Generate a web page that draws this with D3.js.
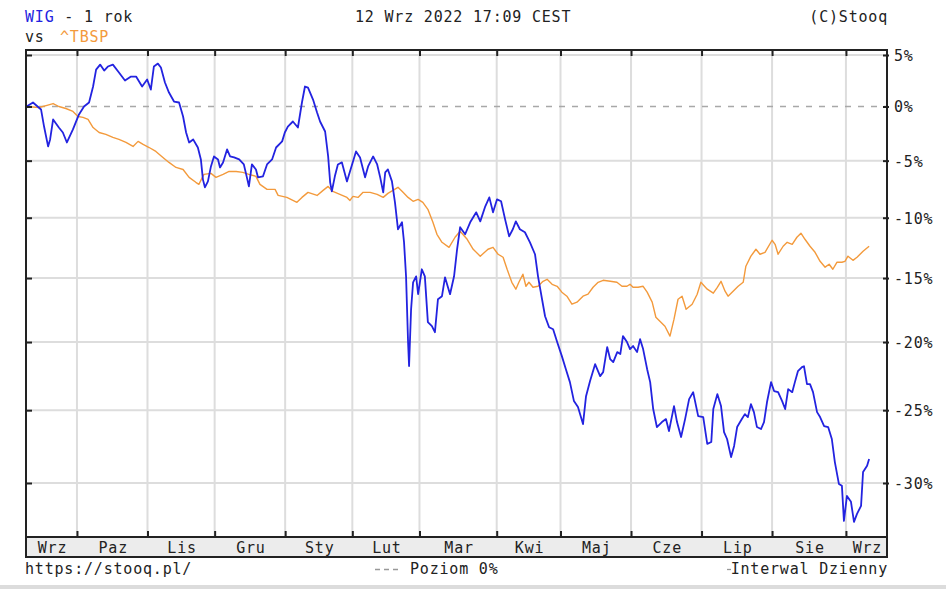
<!DOCTYPE html>
<html><head><meta charset="utf-8">
<script src="https://cdn.jsdelivr.net/npm/d3@7"></script>
<style>
body{margin:0;background:#fff;}
svg{display:block;}
text{font-family:"DejaVu Sans Mono",monospace;font-size:15px;letter-spacing:0.8px;fill:#222;}
</style></head><body>
<svg id="c" width="946" height="589"></svg>
<script>
// ---- data ----
const monthLabels = ["Wrz","Paz","Lis","Gru","Sty","Lut","Mar","Kwi","Maj","Cze","Lip","Sie","Wrz"];
const monthStartDays = [15,36,56,77,97,117,140,159,180,201,222,244]; // trading-day index of 1st session of month
const totalDays = 252;
const yTicks = [5,0,-5,-10,-15,-20,-25,-30];
// [trading day index, % change] WIG
const wig = [[0,0],[1.9,0.38],[4.3,-0.28],[5.2,-1.88],[6.4,-3.71],[7.0,-3.07],[7.9,-1.22],[9.6,-1.97],[10.8,-2.43],[12.0,-3.35],[13.8,-2.15],[15.6,-0.75],[17.1,0],[18.6,0.38],[19.8,1.91],[20.7,3.56],[21.9,4.05],[23.1,3.46],[24.2,3.86],[25.7,4.05],[27.5,3.27],[29.3,2.49],[31.1,2.88],[32.6,2.88],[34.4,1.91],[35.9,2.59],[37.0,1.62],[37.9,3.86],[39.1,4.15],[40.0,3.76],[41.2,2.30],[42.4,1.33],[43.9,0.47],[45.4,0.38],[46.6,-0.94],[47.5,-2.43],[48.4,-3.35],[49.6,-3.07],[51.0,-3.81],[51.9,-4.89],[52.5,-6.67],[53.1,-7.37],[54.0,-6.85],[54.9,-5.52],[55.8,-4.62],[57.0,-4.89],[57.6,-5.61],[58.5,-5.16],[59.7,-3.99],[60.6,-4.62],[61.8,-4.71],[63.3,-4.89],[64.7,-5.34],[65.6,-6.49],[66.2,-7.29],[67.1,-5.34],[68.3,-5.79],[68.9,-6.49],[70.4,-6.40],[71.6,-5.34],[73.1,-4.89],[74.3,-3.81],[76.1,-3.25],[76.9,-2.43],[77.8,-1.88],[79.3,-1.41],[80.8,-1.97],[82.0,0.38],[82.9,1.91],[83.8,1.81],[85.3,0.66],[86.5,-0.57],[87.4,-1.41],[88.9,-2.34],[89.8,-4.62],[90.4,-6.93],[90.9,-7.73],[91.8,-6.40],[92.7,-5.34],[93.9,-5.16],[95.4,-6.85],[96.3,-5.97],[98.1,-4.17],[99.3,-4.71],[100.8,-6.49],[101.7,-5.52],[103.2,-4.62],[104.4,-5.34],[105.3,-6.49],[106.2,-7.81],[106.8,-6.05],[107.6,-5.79],[108.8,-6.85],[109.7,-8.68],[110.6,-10.98],[111.8,-10.39],[112.4,-12.07],[113.0,-14.86],[113.6,-20.0],[113.9,-21.8],[114.5,-17.48],[115.1,-15.34],[116.0,-14.86],[116.6,-16.29],[117.7,-14.29],[118.6,-14.86],[119.5,-18.48],[120.7,-18.79],[121.6,-19.25],[122.5,-16.69],[123.7,-16.45],[124.6,-14.94],[126.1,-16.29],[127.3,-14.86],[128.2,-12.65],[129.1,-10.81],[130.6,-11.40],[132.1,-10.39],[133.9,-9.54],[135.1,-10.31],[136.6,-9.02],[137.8,-8.25],[138.9,-9.54],[140.1,-8.42],[141.3,-8.59],[142.5,-10.14],[143.7,-11.57],[144.8,-10.98],[145.7,-10.31],[146.9,-10.98],[148.4,-11.23],[149.9,-12.07],[151.4,-13.06],[152.3,-14.86],[153.5,-16.69],[154.4,-18.02],[155.6,-18.87],[156.8,-19.02],[158.0,-20.0],[159.4,-21.06],[160.6,-22.03],[161.8,-22.98],[163.0,-24.35],[164.2,-24.78],[165.7,-25.98],[166.6,-24.0],[167.8,-22.9],[169.3,-21.66],[170.8,-22.54],[171.7,-22.25],[172.9,-20.38],[173.8,-21.29],[174.7,-21.51],[175.9,-20.76],[176.8,-20.91],[177.6,-19.55],[178.8,-20.0],[179.7,-20.53],[180.6,-20.30],[181.8,-20.76],[182.7,-19.78],[183.6,-20.53],[184.8,-22.03],[185.7,-22.98],[186.6,-24.92],[187.7,-26.19],[189.2,-25.84],[190.4,-25.63],[191.3,-26.47],[192.8,-24.71],[193.7,-25.84],[194.9,-26.88],[196.1,-25.63],[197.3,-24.21],[198.5,-23.71],[200.0,-25.42],[201.5,-25.49],[202.7,-27.36],[203.9,-27.23],[204.5,-24.92],[205.7,-23.85],[206.8,-24.71],[207.7,-26.54],[208.6,-27.02],[209.8,-28.26],[210.7,-27.50],[211.6,-26.19],[213.0,-25.63],[213.9,-25.28],[214.8,-25.49],[215.7,-24.57],[216.6,-25.14],[217.5,-26.19],[218.7,-26.33],[219.6,-25.84],[220.5,-24.42],[221.7,-22.98],[222.6,-23.63],[223.8,-23.71],[225.0,-24.35],[225.9,-24.92],[226.8,-23.49],[228.0,-23.71],[228.8,-22.98],[229.7,-22.18],[230.9,-21.88],[231.5,-21.81],[232.4,-23.13],[233.3,-23.13],[234.2,-23.71],[235.4,-25.14],[236.3,-25.49],[237.5,-26.12],[238.7,-26.19],[239.8,-27.02],[240.7,-28.60],[241.9,-30.06],[242.8,-30.19],[243.4,-32.47],[244.3,-30.85],[245.5,-31.24],[246.4,-32.53],[247.3,-32.02],[248.5,-31.50],[249.1,-29.27],[250.3,-28.85],[250.9,-28.39]];
// [trading day index, % change] ^TBSP
const tbsp = [[0,0],[3.7,-0.09],[5.8,0.09],[7.9,0.28],[9.6,0],[11.7,-0.19],[13.8,-0.47],[15.3,-0.94],[16.8,-1.03],[18.3,-1.22],[19.8,-1.97],[21.6,-2.43],[23.6,-2.61],[25.7,-2.89],[27.5,-3.07],[29.6,-3.35],[31.7,-3.71],[33.2,-3.25],[34.7,-3.53],[36.5,-3.81],[38.5,-4.17],[40.6,-4.71],[42.4,-5.16],[44.5,-5.61],[46.6,-5.79],[48.4,-6.49],[50.4,-6.93],[51.3,-7.11],[52.8,-6.23],[54.9,-6.14],[56.4,-6.49],[58.5,-6.23],[60.3,-5.97],[62.4,-5.97],[64.4,-6.05],[66.2,-6.23],[68.3,-6.40],[69.5,-7.11],[71.6,-7.55],[74.0,-7.55],[74.9,-8.08],[77.5,-8.25],[80.5,-8.68],[82.0,-8.25],[83.8,-7.81],[86.5,-8.08],[88.3,-7.64],[89.8,-7.29],[91.2,-7.73],[93.3,-7.99],[95.4,-8.25],[96.3,-8.51],[97.2,-8.16],[98.7,-8.25],[100.2,-7.81],[102.3,-7.81],[104.4,-7.99],[106.2,-8.25],[107.6,-7.90],[109.1,-7.64],[110.6,-7.37],[112.1,-7.81],[113.6,-8.25],[115.1,-8.59],[116.6,-8.42],[118.0,-8.68],[119.5,-9.28],[121.0,-10.39],[122.2,-11.40],[123.7,-12.07],[125.8,-12.49],[127.6,-11.65],[129.1,-11.15],[131.2,-11.82],[133.0,-12.65],[135.1,-13.22],[137.4,-12.65],[138.9,-12.49],[140.4,-13.06],[141.9,-13.31],[143.1,-14.29],[144.5,-15.34],[145.7,-15.89],[146.6,-15.34],[147.8,-14.69],[148.7,-15.66],[149.6,-15.34],[150.8,-15.74],[152.3,-15.66],[153.8,-15.26],[155.0,-15.10],[156.5,-15.50],[158.0,-15.66],[159.4,-16.13],[160.9,-16.45],[162.4,-17.08],[163.9,-16.92],[165.7,-16.45],[167.2,-16.29],[168.7,-15.74],[170.2,-15.34],[171.7,-15.18],[173.8,-15.26],[175.8,-15.34],[177.3,-15.66],[178.8,-15.66],[179.7,-15.50],[180.6,-15.74],[182.1,-15.74],[183.6,-15.66],[184.8,-16.13],[186.3,-16.92],[187.4,-18.10],[188.6,-18.41],[190.1,-18.79],[191.6,-19.55],[192.8,-18.25],[194.0,-16.69],[195.2,-16.45],[196.4,-17.48],[198.2,-17.08],[199.7,-16.29],[200.8,-15.34],[202.7,-15.89],[204.5,-16.21],[205.7,-15.74],[206.8,-15.26],[208.0,-16.05],[208.9,-16.45],[210.4,-16.05],[211.9,-15.66],[213.4,-15.34],[214.2,-14.04],[215.7,-13.22],[217.2,-12.65],[218.4,-13.06],[219.9,-12.90],[222.0,-11.90],[222.9,-12.24],[223.8,-13.06],[225.3,-12.40],[226.5,-12.07],[228.0,-12.24],[229.4,-11.65],[230.6,-11.31],[231.8,-11.82],[233.3,-12.40],[234.8,-12.90],[236.3,-13.64],[237.8,-14.12],[239.0,-13.88],[240.1,-14.29],[241.3,-13.72],[242.8,-13.72],[243.7,-13.64],[244.6,-13.22],[246.1,-13.56],[247.3,-13.31],[249.1,-12.82],[250.9,-12.40]];

// ---- drawing ----
const svg = d3.select("#c");
const L = 26, R = 887, T = 50, PB = 537, BB = 557;
const x = d3.scaleLinear().domain([0, totalDays]).range([26.6, 872.8]);
const y = d3.scaleLog().domain([0.70, 1.05]).range([483, 55]);
const yv = p => y(1 + p / 100);
const blue = "#2323e0", orange = "#f39a3c";

// header
const h1 = svg.append("text").attr("x", 25).attr("y", 21.5);
h1.append("tspan").style("fill", blue).text("WIG");
h1.append("tspan").text(" - 1 rok");
svg.append("text").attr("x", 25).attr("y", 42).text("vs");
svg.append("text").attr("x", 60).attr("y", 42).style("fill", orange).text("^TBSP");
svg.append("text").attr("x", 355).attr("y", 21.5).text("12 Wrz 2022 17:09 CEST");
svg.append("text").attr("x", 888).attr("y", 21.5).attr("text-anchor", "end").text("(C)Stooq");

// band
svg.append("rect").attr("x", L).attr("y", PB).attr("width", R - L).attr("height", BB - PB).attr("fill", "#ececec");

// grid
const g = svg.append("g");
g.selectAll(".vg").data(monthStartDays).join("line")
  .attr("x1", d => x(d)).attr("x2", d => x(d)).attr("y1", T).attr("y2", PB)
  .attr("stroke", "#dddddd").attr("stroke-width", 2);
g.selectAll(".hg").data(yTicks.filter(t => t !== 0)).join("line")
  .attr("x1", L).attr("x2", R).attr("y1", d => yv(d)).attr("y2", d => yv(d))
  .attr("stroke", "#dddddd").attr("stroke-width", 2);
g.append("line").attr("x1", L).attr("x2", R).attr("y1", yv(0)).attr("y2", yv(0))
  .attr("stroke", "#a8a8a8").attr("stroke-width", 1.6).attr("stroke-dasharray", "6,7");

// lines
svg.append("clipPath").attr("id", "pc").append("rect").attr("x", L).attr("y", T).attr("width", R - L).attr("height", PB - T);
const line = d3.line().x(d => x(d[0])).y(d => yv(d[1]));
const lg = svg.append("g").attr("clip-path", "url(#pc)");
lg.append("path").datum(tbsp).attr("d", line).attr("fill", "none").attr("stroke", orange).attr("stroke-width", 1.4).attr("stroke-linejoin", "round");
lg.append("path").datum(wig).attr("d", line).attr("fill", "none").attr("stroke", blue).attr("stroke-width", 1.8).attr("stroke-linejoin", "round");

// frame
svg.append("rect").attr("x", L).attr("y", T).attr("width", R - L).attr("height", BB - T)
  .attr("fill", "none").attr("stroke", "#222").attr("stroke-width", 2);
svg.append("line").attr("x1", L).attr("x2", R).attr("y1", PB).attr("y2", PB).attr("stroke", "#222").attr("stroke-width", 2);

// axes (ticks)
const yr = yTicks.map(p => 1 + p / 100);
const axR = svg.append("g").attr("transform", `translate(883,0)`)
  .call(d3.axisRight(y).tickValues(yr).tickSize(6).tickPadding(5).tickFormat(r => Math.round((r - 1) * 100) + "%"));
const axL = svg.append("g").attr("transform", `translate(${L},0)`)
  .call(d3.axisLeft(y).tickValues(yr).tickSize(-6).tickFormat(""));
const axT = svg.append("g").attr("transform", `translate(0,${T})`)
  .call(d3.axisTop(x).tickValues(monthStartDays).tickSize(-6).tickFormat(""));
const axB = svg.append("g").attr("transform", `translate(0,${PB})`)
  .call(d3.axisTop(x).tickValues(monthStartDays).tickSize(6).tickFormat(""));
[axR, axL, axT, axB].forEach(a => {
  a.select(".domain").remove();
  a.selectAll(".tick line").attr("stroke", "#222").attr("stroke-width", 2);
  a.selectAll("text").attr("fill", "#222").style("font-family", '"DejaVu Sans Mono",monospace').style("font-size", "15px");
});
axR.selectAll("text").attr("dy", "0.36em");

// month labels centred in each month interval
const bounds = [0].concat(monthStartDays);
const px = i => {
  const a = i === 0 ? L : x(monthStartDays[i - 1]);
  const b = i === monthLabels.length - 1 ? R : x(monthStartDays[i]);
  return (a + b) / 2;
};
svg.selectAll(".ml").data(monthLabels).join("text")
  .attr("x", (d, i) => px(i) + 1).attr("y", 553).attr("text-anchor", "middle").text(d => d);

// footer
svg.append("text").attr("x", 25).attr("y", 574).text("https://stooq.pl/");
svg.append("line").attr("x1", 375).attr("x2", 399).attr("y1", 569.5).attr("y2", 569.5)
  .attr("stroke", "#999").attr("stroke-width", 1.3).attr("stroke-dasharray", "5,4");
svg.append("text").attr("x", 410).attr("y", 574).text("Poziom 0%");
svg.append("line").attr("x1", 727).attr("x2", 731).attr("y1", 569.5).attr("y2", 569.5)
  .attr("stroke", "#999").attr("stroke-width", 1.3);
svg.append("text").attr("x", 888).attr("y", 574).attr("text-anchor", "end").text("Interwal Dzienny");
svg.append("rect").attr("x", 0).attr("y", 585).attr("width", 946).attr("height", 4).attr("fill", "#dcdcdc");
</script>
</body></html>
